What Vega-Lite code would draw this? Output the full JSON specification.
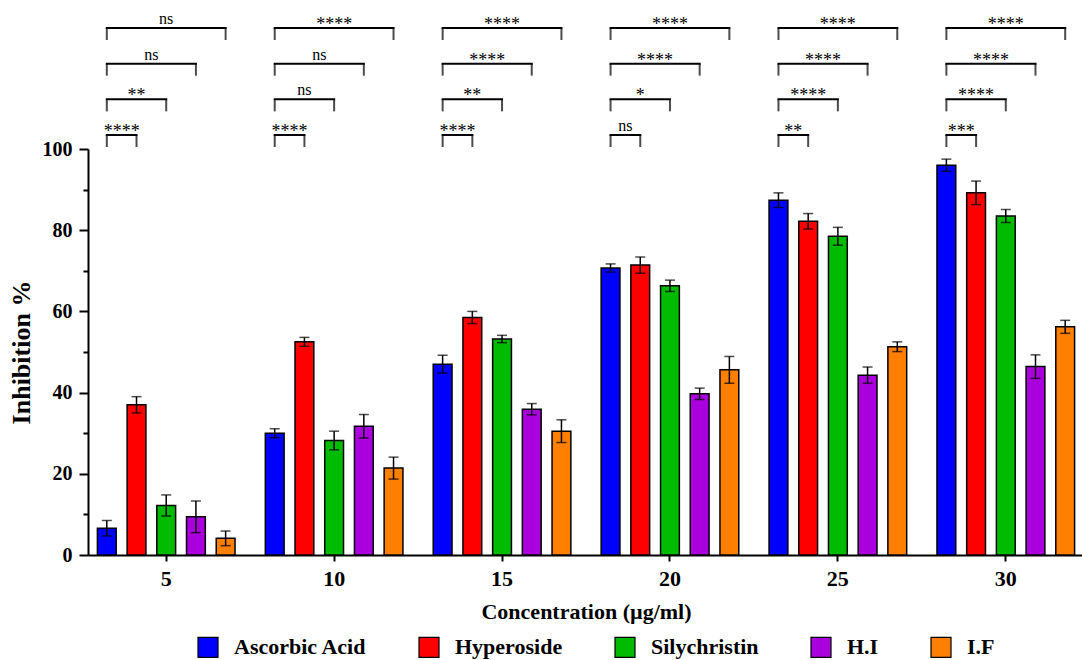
{
  "$schema": "https://vega.github.io/schema/vega-lite/v6.json",
  "background": "white",
  "padding": {"left": 8, "top": 2, "right": 0, "bottom": 0},
  "spacing": 0,
  "bounds": "flush",
  "config": {
    "view": {"stroke": null},
    "font": "Liberation Serif",
    "axis": {
      "grid": false,
      "domainColor": "black",
      "domainWidth": 2,
      "tickColor": "black",
      "tickWidth": 2,
      "labelColor": "black",
      "titleColor": "black",
      "labelFont": "Liberation Serif",
      "titleFont": "Liberation Serif",
      "labelFontWeight": "bold",
      "titleFontWeight": "bold",
      "labelFontSize": 20,
      "titleFontSize": 22
    }
  },
  "datasets": {
    "inhibition": [
      {"conc": 5, "series": "Ascorbic Acid", "value": 6.6, "lo": 4.7, "hi": 8.5},
      {"conc": 5, "series": "Hyperoside", "value": 37.0, "lo": 35.0, "hi": 39.0},
      {"conc": 5, "series": "Silychristin", "value": 12.2, "lo": 9.6, "hi": 14.8},
      {"conc": 5, "series": "H.I", "value": 9.4, "lo": 5.5, "hi": 13.3},
      {"conc": 5, "series": "I.F", "value": 4.1, "lo": 2.3, "hi": 5.9},
      {"conc": 10, "series": "Ascorbic Acid", "value": 30.0, "lo": 28.9, "hi": 31.1},
      {"conc": 10, "series": "Hyperoside", "value": 52.5, "lo": 51.4, "hi": 53.6},
      {"conc": 10, "series": "Silychristin", "value": 28.2, "lo": 25.9, "hi": 30.5},
      {"conc": 10, "series": "H.I", "value": 31.7, "lo": 28.8, "hi": 34.6},
      {"conc": 10, "series": "I.F", "value": 21.4, "lo": 18.7, "hi": 24.1},
      {"conc": 15, "series": "Ascorbic Acid", "value": 47.0, "lo": 44.8, "hi": 49.2},
      {"conc": 15, "series": "Hyperoside", "value": 58.5, "lo": 57.0, "hi": 60.0},
      {"conc": 15, "series": "Silychristin", "value": 53.2, "lo": 52.3, "hi": 54.1},
      {"conc": 15, "series": "H.I", "value": 35.9, "lo": 34.5, "hi": 37.3},
      {"conc": 15, "series": "I.F", "value": 30.5, "lo": 27.7, "hi": 33.3},
      {"conc": 20, "series": "Ascorbic Acid", "value": 70.7, "lo": 69.7, "hi": 71.7},
      {"conc": 20, "series": "Hyperoside", "value": 71.4, "lo": 69.4, "hi": 73.4},
      {"conc": 20, "series": "Silychristin", "value": 66.3, "lo": 64.9, "hi": 67.7},
      {"conc": 20, "series": "H.I", "value": 39.7, "lo": 38.3, "hi": 41.1},
      {"conc": 20, "series": "I.F", "value": 45.6, "lo": 42.3, "hi": 48.9},
      {"conc": 25, "series": "Ascorbic Acid", "value": 87.4, "lo": 85.6, "hi": 89.2},
      {"conc": 25, "series": "Hyperoside", "value": 82.2, "lo": 80.3, "hi": 84.1},
      {"conc": 25, "series": "Silychristin", "value": 78.5, "lo": 76.3, "hi": 80.7},
      {"conc": 25, "series": "H.I", "value": 44.3, "lo": 42.3, "hi": 46.3},
      {"conc": 25, "series": "I.F", "value": 51.3, "lo": 50.1, "hi": 52.5},
      {"conc": 30, "series": "Ascorbic Acid", "value": 96.0, "lo": 94.5, "hi": 97.5},
      {"conc": 30, "series": "Hyperoside", "value": 89.2, "lo": 86.3, "hi": 92.1},
      {"conc": 30, "series": "Silychristin", "value": 83.5, "lo": 81.9, "hi": 85.1},
      {"conc": 30, "series": "H.I", "value": 46.4, "lo": 43.5, "hi": 49.3},
      {"conc": 30, "series": "I.F", "value": 56.2, "lo": 54.6, "hi": 57.8}
    ],
    "comparisons": [
      {"conc": 5, "from": "Ascorbic Acid", "to": "Hyperoside", "sig": "****"},
      {"conc": 5, "from": "Ascorbic Acid", "to": "Silychristin", "sig": "**"},
      {"conc": 5, "from": "Ascorbic Acid", "to": "H.I", "sig": "ns"},
      {"conc": 5, "from": "Ascorbic Acid", "to": "I.F", "sig": "ns"},
      {"conc": 10, "from": "Ascorbic Acid", "to": "Hyperoside", "sig": "****"},
      {"conc": 10, "from": "Ascorbic Acid", "to": "Silychristin", "sig": "ns"},
      {"conc": 10, "from": "Ascorbic Acid", "to": "H.I", "sig": "ns"},
      {"conc": 10, "from": "Ascorbic Acid", "to": "I.F", "sig": "****"},
      {"conc": 15, "from": "Ascorbic Acid", "to": "Hyperoside", "sig": "****"},
      {"conc": 15, "from": "Ascorbic Acid", "to": "Silychristin", "sig": "**"},
      {"conc": 15, "from": "Ascorbic Acid", "to": "H.I", "sig": "****"},
      {"conc": 15, "from": "Ascorbic Acid", "to": "I.F", "sig": "****"},
      {"conc": 20, "from": "Ascorbic Acid", "to": "Hyperoside", "sig": "ns"},
      {"conc": 20, "from": "Ascorbic Acid", "to": "Silychristin", "sig": "*"},
      {"conc": 20, "from": "Ascorbic Acid", "to": "H.I", "sig": "****"},
      {"conc": 20, "from": "Ascorbic Acid", "to": "I.F", "sig": "****"},
      {"conc": 25, "from": "Ascorbic Acid", "to": "Hyperoside", "sig": "**"},
      {"conc": 25, "from": "Ascorbic Acid", "to": "Silychristin", "sig": "****"},
      {"conc": 25, "from": "Ascorbic Acid", "to": "H.I", "sig": "****"},
      {"conc": 25, "from": "Ascorbic Acid", "to": "I.F", "sig": "****"},
      {"conc": 30, "from": "Ascorbic Acid", "to": "Hyperoside", "sig": "***"},
      {"conc": 30, "from": "Ascorbic Acid", "to": "Silychristin", "sig": "****"},
      {"conc": 30, "from": "Ascorbic Acid", "to": "H.I", "sig": "****"},
      {"conc": 30, "from": "Ascorbic Acid", "to": "I.F", "sig": "****"}
    ],
    "seriesOrder": [
      {"series": "Ascorbic Acid", "rank": 0},
      {"series": "Hyperoside", "rank": 1},
      {"series": "Silychristin", "rank": 2},
      {"series": "H.I", "rank": 3},
      {"series": "I.F", "rank": 4}
    ]
  },
  "resolve": {"scale": {"x": "shared", "xOffset": "independent"}},
  "vconcat": [
    {
      "width": 996,
      "height": 147,
      "data": {"name": "comparisons"},
      "transform": [
        {"lookup": "to", "from": {"data": {"name": "seriesOrder"}, "key": "series", "fields": ["rank"]}, "as": ["level"]},
        {"fold": ["from", "to"], "as": ["end", "series"]},
        {"lookup": "series", "from": {"data": {"name": "seriesOrder"}, "key": "series", "fields": ["rank"]}}
      ],
      "encoding": {
        "x": {"field": "conc", "type": "ordinal", "axis": null, "scale": {"paddingInner": 0.1156, "paddingOuter": 0.0236}},
        "y": {"field": "level", "type": "quantitative", "axis": null, "scale": {"domain": [0.608, 4.729], "nice": false, "zero": false}}
      },
      "layer": [
        {
          "mark": {"type": "line", "color": "black", "strokeWidth": 2, "strokeCap": "square"},
          "encoding": {
            "xOffset": {"field": "rank", "type": "quantitative", "scale": {"domain": [-0.5, 4.5], "nice": false, "zero": false}},
            "detail": [{"field": "conc"}, {"field": "to"}],
            "order": {"field": "rank"}
          }
        },
        {
          "mark": {"type": "tick", "orient": "vertical", "color": "black", "thickness": 2, "size": 12, "yOffset": 6},
          "encoding": {
            "xOffset": {"field": "rank", "type": "quantitative"}
          }
        },
        {
          "transform": [{"filter": "datum.sig === 'ns'"}],
          "mark": {"type": "text", "font": "Liberation Serif", "fontSize": 16, "color": "black", "baseline": "alphabetic", "dy": -4},
          "encoding": {
            "xOffset": {"aggregate": "mean", "field": "rank", "type": "quantitative"},
            "text": {"field": "sig"}
          }
        },
        {
          "transform": [{"filter": "datum.sig !== 'ns'"}],
          "mark": {"type": "text", "font": "Liberation Serif", "fontSize": 18, "color": "black", "baseline": "alphabetic", "dy": 2},
          "encoding": {
            "xOffset": {"aggregate": "mean", "field": "rank", "type": "quantitative"},
            "text": {"field": "sig"}
          }
        }
      ]
    },
    {
      "width": 996,
      "height": 406,
      "data": {"name": "inhibition"},
      "encoding": {
        "x": {
          "field": "conc", "type": "ordinal", "title": "Concentration (µg/ml)",
          "scale": {"paddingInner": 0.1156, "paddingOuter": 0.0236},
          "axis": {"labelAngle": 0, "tickSize": 6, "labelPadding": 7, "titlePadding": 12, "labelFontSize": 22}
        },
        "xOffset": {
          "field": "series", "type": "nominal",
          "sort": ["Ascorbic Acid", "Hyperoside", "Silychristin", "H.I", "I.F"],
          "scale": {"domain": ["Ascorbic Acid", "Hyperoside", "Silychristin", "H.I", "I.F"], "paddingInner": 0.367, "paddingOuter": 0.183}
        }
      },
      "layer": [
        {
          "mark": {"type": "bar", "stroke": "black", "strokeWidth": 1.5},
          "encoding": {
            "y": {
              "field": "value", "type": "quantitative", "title": "Inhibition %",
              "scale": {"domain": [0, 100], "nice": false},
              "axis": {
                "values": [0, 5, 10, 15, 20, 25, 30, 35, 40, 45, 50, 55, 60, 65, 70, 75, 80, 85, 90, 95, 100],
                "labelExpr": "datum.value % 20 === 0 ? datum.label : ''",
                "tickSize": {"condition": {"test": "datum.value % 20 === 0", "value": 9}, "value": 5},
                "labelPadding": 7,
                "titlePadding": 8,
                "titleFontSize": 26
              }
            },
            "color": {
              "field": "series", "type": "nominal",
              "scale": {"domain": ["Ascorbic Acid", "Hyperoside", "Silychristin", "H.I", "I.F"], "range": ["#0000FF", "#FF0000", "#00BB00", "#AA00DD", "#FF8000"]},
              "legend": {
                "title": null, "orient": "none", "direction": "horizontal",
                "legendX": 109, "legendY": 634,
                "symbolType": "square", "symbolSize": 400, "symbolStrokeColor": "black", "symbolStrokeWidth": 1.2,
                "labelFont": "Liberation Serif", "labelFontWeight": "bold", "labelFontSize": 22, "labelColor": "black",
                "columnPadding": 49, "labelOffset": 15
              }
            }
          }
        },
        {
          "mark": {"type": "rule", "color": "black", "strokeWidth": 1.5},
          "encoding": {
            "y": {"field": "lo", "type": "quantitative", "title": "Inhibition %"},
            "y2": {"field": "hi"}
          }
        },
        {
          "mark": {"type": "tick", "orient": "horizontal", "color": "black", "thickness": 1.5, "size": 10},
          "encoding": {"y": {"field": "lo", "type": "quantitative", "title": "Inhibition %"}}
        },
        {
          "mark": {"type": "tick", "orient": "horizontal", "color": "black", "thickness": 1.5, "size": 10},
          "encoding": {"y": {"field": "hi", "type": "quantitative", "title": "Inhibition %"}}
        }
      ]
    }
  ]
}
